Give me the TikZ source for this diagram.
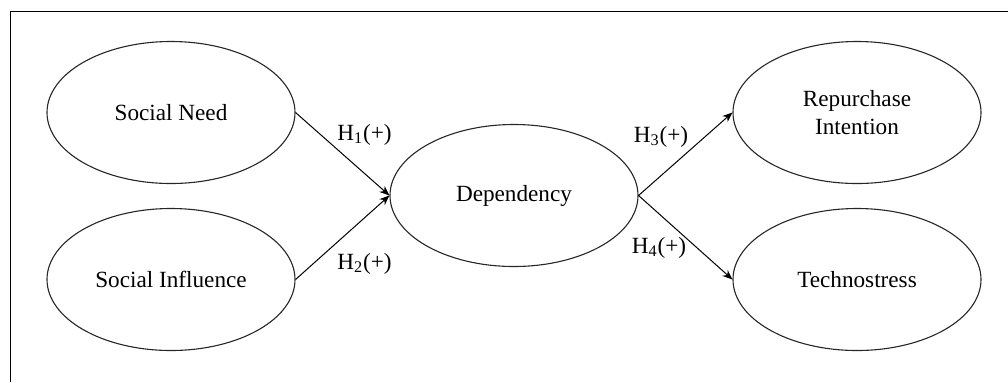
\documentclass[tikz,border=0pt]{standalone}
\usepackage{fontspec}
\setmainfont{Liberation Serif}
\usetikzlibrary{arrows.meta,shapes.geometric}
\begin{document}
\begin{tikzpicture}[x=0.5pt,y=-0.5pt,
  construct/.style={ellipse,draw=black!85,line width=0.55pt,minimum width=124pt,minimum height=71pt,inner sep=0pt,align=center,font=\fontsize{11.6}{13.6}\selectfont},
  hyp/.style={anchor=base,inner sep=0pt,font=\fontsize{11.6}{13.6}\selectfont},
  link/.style={draw=black,line width=0.5pt,-{Stealth[length=5pt,width=4pt]}}]
\useasboundingbox (0,0) rectangle (1008,382);
\draw[line width=0.65pt] (10.5,382) -- (10.5,11.5) -- (1008,11.5);
\node[construct] (sn) at (171,112.5) {Social Need};
\node[construct] (si) at (171,279.5) {Social Influence};
\node[construct] (dep) at (514,195.5) {Dependency};
\node[construct] (ri) at (857,112.5) {Repurchase\\Intention};
\node[construct] (ts) at (857,279.5) {Technostress};
\draw[link] (sn.east) -- (dep.west);
\draw[link] (si.east) -- (dep.west);
\draw[link] (dep.east) -- (ri.west);
\draw[link] (dep.east) -- (ts.west);
\node[hyp] (h1) at (364.5,140) {H\textsubscript{1}(+)};
\node[hyp] (h2) at (364.5,269) {H\textsubscript{2}(+)};
\node[hyp] (h3) at (661,142) {H\textsubscript{3}(+)};
\node[hyp] (h4) at (659,253) {H\textsubscript{4}(+)};
\end{tikzpicture}
\end{document}
